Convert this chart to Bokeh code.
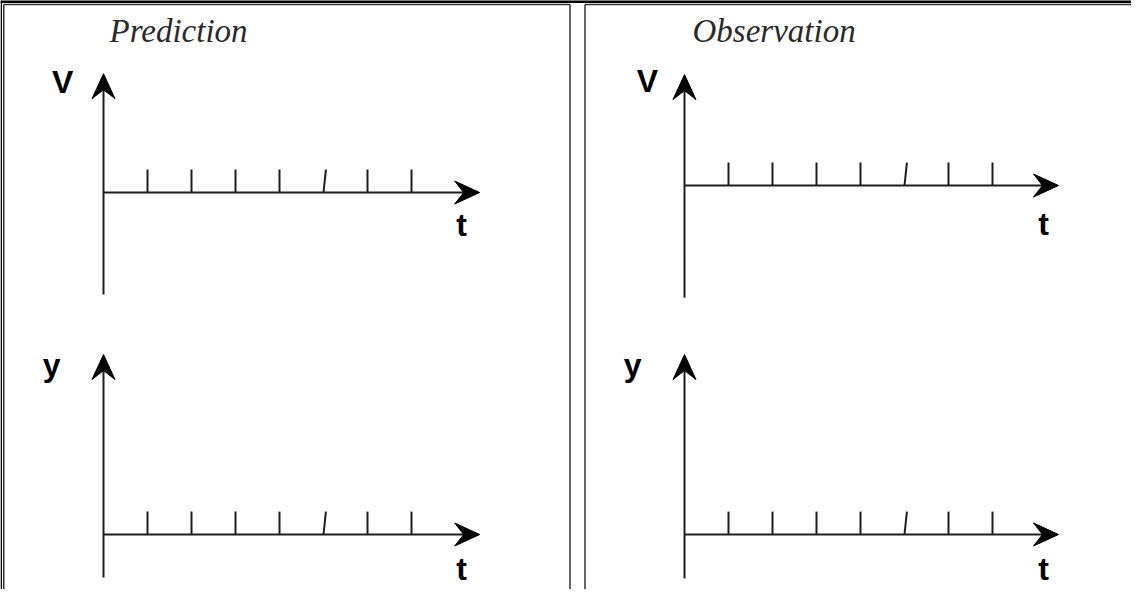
from bokeh.plotting import figure
from bokeh.models import Range1d
from bokeh.core.properties import value
from bokeh.embed import file_html
from bokeh.resources import INLINE

# ---------------- data ----------------
panel_titles = ["Prediction", "Observation"]   # column headings
row_quantities = ["V", "y"]                     # vertical-axis quantity per row
time_label = "t"                                # horizontal-axis quantity
tick_t = [1, 2, 3, 4, 5, 6, 7]                  # unlabeled time ticks
tick_lean = [0, 0, 0, 0, 0.055, 0, 0]           # the 5th tick is drawn slanted
tick_height = 0.52

# ---------------- layout (page pixels / axis units) ----------------
W, H = 1131, 589
X0, Y0 = 8, 8
S = 44.0          # pixels per axis unit
TEXT_LIFT = 12.0  # px correction for the svg text baseline
INK = "#1e1e1e"
HEAD_LEN, HEAD_HALF, HEAD_NOTCH = 25 / S, 11.5 / S, 16 / S

panels = [
    dict(key="ul", col=0, row=0, ox=111, oy=200, v_top=2.70, v_bot=-2.32, t_tip=8.55,
         q_at=(-0.93, 2.23), t_at=(8.14, -1.02)),
    dict(key="ur", col=1, row=0, ox=692, oy=193, v_top=2.52, v_bot=-2.55, t_tip=8.50,
         q_at=(-0.84, 2.11), t_at=(8.16, -1.14)),
    dict(key="ll", col=0, row=1, ox=111, oy=542, v_top=4.09, v_bot=-0.98, t_tip=8.55,
         q_at=(-1.18, 3.59), t_at=(8.14, -1.05)),
    dict(key="lr", col=1, row=1, ox=692, oy=542, v_top=4.09, v_bot=-1.00, t_tip=8.50,
         q_at=(-1.18, 3.59), t_at=(8.16, -1.05)),
]
title_pos = [(117, 50), (700, 50)]

p = figure(width=W, height=H, output_backend="svg", toolbar_location=None,
           x_range=Range1d(X0, X0 + W), y_range=Range1d(Y0 + H, Y0),
           x_axis_type=None, y_axis_type=None, min_border=0)
p.grid.visible = False
p.outline_line_color = None
p.background_fill_color = "white"
p.border_fill_color = "white"

# ---- table frame (page pixel coordinates) ----
p.segment(x0=[X0], y0=[9], x1=[X0 + W], y1=[9], line_color="black", line_width=3)
p.segment(x0=[8.75], y0=[Y0], x1=[8.75], y1=[Y0 + H], line_color="black", line_width=1.5)
frame_x0 = [11.25, 11.25, 577.5, 592.5, 592.5]
frame_y0 = [12, 12, 12, 12, 12]
frame_x1 = [577.5, 11.25, 577.5, 592.5, X0 + W]
frame_y1 = [12, Y0 + H, Y0 + H, Y0 + H, 12]
p.segment(x0=frame_x0, y0=frame_y0, x1=frame_x1, y1=frame_y1, line_color="#333333", line_width=1.5)

# ---- titles ----
for (tx, ty), title in zip(title_pos, panel_titles):
    p.text(x=[tx], y=[ty - TEXT_LIFT], text=[title], text_font=value("Liberation Serif"),
           text_font_style="italic", text_font_size=value("33px"), text_color="#2a2a2a",
           text_align="left", text_baseline="alphabetic")

# ---- panels ----
lift = TEXT_LIFT / S
for pn in panels:
    xr, yr = pn["key"] + "_t", pn["key"] + "_v"
    p.extra_x_ranges[xr] = Range1d((X0 - pn["ox"]) / S, (X0 + W - pn["ox"]) / S)
    p.extra_y_ranges[yr] = Range1d((pn["oy"] - (Y0 + H)) / S, (pn["oy"] - Y0) / S)

    vt, vb, tt = pn["v_top"], pn["v_bot"], pn["t_tip"]
    # axis shafts
    p.segment(x0=[0, 0], y0=[vb, 0], x1=[0, tt - HEAD_NOTCH], y1=[vt - HEAD_NOTCH, 0],
              x_range_name=xr, y_range_name=yr, line_color=INK, line_width=2)
    # notched dart heads
    p.patches(xs=[[0, HEAD_HALF, 0, -HEAD_HALF],
                  [tt, tt - HEAD_LEN, tt - HEAD_NOTCH, tt - HEAD_LEN]],
              ys=[[vt, vt - HEAD_LEN, vt - HEAD_NOTCH, vt - HEAD_LEN],
                  [0, HEAD_HALF, 0, -HEAD_HALF]],
              x_range_name=xr, y_range_name=yr, fill_color="black",
              line_color="black", line_width=1, line_join="miter")
    # ticks
    p.segment(x0=tick_t, y0=[0] * len(tick_t),
              x1=[t + l for t, l in zip(tick_t, tick_lean)], y1=[tick_height] * len(tick_t),
              x_range_name=xr, y_range_name=yr, line_color=INK, line_width=2)
    # axis labels
    p.text(x=[pn["q_at"][0]], y=[pn["q_at"][1] + lift], text=[row_quantities[pn["row"]]],
           x_range_name=xr, y_range_name=yr, text_font=value("Liberation Sans"),
           text_font_style="bold", text_font_size=value("32px"), text_color="black",
           text_align="center", text_baseline="alphabetic")
    p.text(x=[pn["t_at"][0]], y=[pn["t_at"][1] + lift], text=[time_label],
           x_range_name=xr, y_range_name=yr, text_font=value("Liberation Sans"),
           text_font_style="bold", text_font_size=value("32px"), text_color="black",
           text_align="center", text_baseline="alphabetic")

open("out.html", "w").write(file_html(p, INLINE))
